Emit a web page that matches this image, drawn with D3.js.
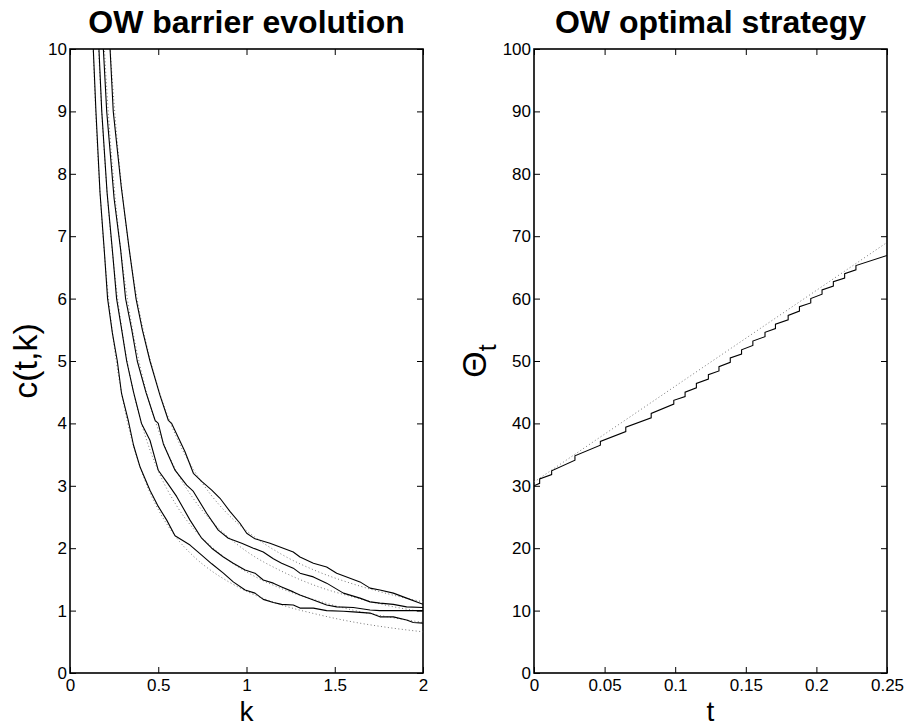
<!DOCTYPE html>
<html><head><meta charset="utf-8">
<script src="https://cdn.jsdelivr.net/npm/d3@7"></script>
<style>body{margin:0;background:#fff} svg{display:block} text{font-family:"Liberation Sans",Arial,Helvetica,sans-serif}</style>
</head><body><svg id="c" width="907" height="726"></svg>
<script>
// ---------- data: left panel (barrier evolution) ----------
const kTicks = [0, 0.5, 1, 1.5, 2];
const cTicks = [0,1,2,3,4,5,6,7,8,9,10];

const solidK1 = [0.12,0.132,0.147,0.17,0.194,0.213,0.24,0.268,0.292,0.330,0.36,0.397,0.453,0.5,0.548,0.595,0.68,0.746,0.803,0.869,0.925,0.992,1.048,1.095,1.152,1.199,1.265,1.303,1.379,1.454,1.549,1.605,1.70,1.756,1.832,1.907,1.945,2.0];
const solidC1 = [10.9,10.0,9.0,7.7,6.78,6.0,5.45,5.0,4.48,4.05,3.65,3.30,2.93,2.67,2.45,2.20,2.05,1.89,1.75,1.60,1.46,1.33,1.28,1.18,1.13,1.10,1.09,1.04,1.04,1.00,0.99,0.98,0.96,0.90,0.90,0.85,0.81,0.80];

const solidK2 = [0.15,0.164,0.180,0.21,0.240,0.264,0.29,0.321,0.36,0.397,0.405,0.453,0.5,0.55,0.604,0.68,0.746,0.803,0.869,0.925,0.992,1.048,1.095,1.152,1.199,1.265,1.303,1.379,1.454,1.511,1.605,1.700,1.756,1.85,2.0];
const solidC2 = [10.8,10.0,9.0,7.7,6.78,6.0,5.55,5.0,4.5,4.09,4.0,3.73,3.25,3.05,2.83,2.45,2.16,2.0,1.86,1.76,1.65,1.60,1.49,1.44,1.38,1.30,1.25,1.17,1.09,1.06,1.05,1.01,1.0,1.0,1.0];

const solidK3 = [0.175,0.189,0.208,0.25,0.287,0.315,0.35,0.381,0.43,0.482,0.5,0.529,0.595,0.661,0.699,0.774,0.840,0.897,0.973,1.039,1.095,1.152,1.199,1.265,1.303,1.379,1.454,1.549,1.643,1.700,1.756,1.832,1.907,2.0];
const solidC3 = [10.8,10.0,9.0,7.6,6.78,6.0,5.5,5.0,4.5,4.05,4.0,3.67,3.25,3.01,2.91,2.56,2.29,2.16,2.08,2.0,1.94,1.83,1.76,1.68,1.60,1.54,1.44,1.28,1.20,1.14,1.12,1.10,1.06,1.05];

const solidK4 = [0.215,0.227,0.245,0.29,0.336,0.374,0.41,0.453,0.51,0.557,0.576,0.651,0.699,0.746,0.803,0.850,0.906,0.963,1.001,1.048,1.133,1.265,1.303,1.379,1.454,1.511,1.643,1.700,1.756,1.832,1.907,2.0];
const solidC4 = [10.6,10.0,9.0,7.8,6.78,6.0,5.5,5.0,4.45,4.05,4.0,3.55,3.20,3.07,2.93,2.80,2.59,2.40,2.24,2.15,2.08,1.94,1.86,1.76,1.70,1.60,1.46,1.36,1.33,1.28,1.20,1.10];

const dottedK  = [0.12,0.14,0.16,0.18,0.2,0.22,0.25,0.3,0.35,0.4,0.45,0.5,0.6,0.7,0.8,0.9,1.0,1.2,1.4,1.6,1.8,2.0];
const dottedC1 = [10.92,9.36,8.19,7.28,6.55,5.95,5.24,4.37,3.74,3.28,2.91,2.62,2.18,1.87,1.64,1.46,1.31,1.09,0.94,0.82,0.73,0.66];
const dottedC2 = [13.5,11.57,10.13,9.0,8.1,7.36,6.48,5.4,4.63,4.05,3.6,3.24,2.7,2.31,2.03,1.8,1.62,1.35,1.16,1.01,0.9,0.81];
const dottedC3 = [16.25,13.93,12.19,10.83,9.75,8.86,7.8,6.5,5.57,4.88,4.33,3.9,3.25,2.79,2.44,2.17,1.95,1.63,1.39,1.22,1.08,0.98];
const dottedC4 = [19.0,16.29,14.25,12.67,11.4,10.36,9.12,7.6,6.51,5.7,5.07,4.56,3.8,3.26,2.85,2.53,2.28,1.9,1.63,1.43,1.27,1.14];

// ---------- data: right panel (optimal strategy) ----------
const tTicks = [0, 0.05, 0.1, 0.15, 0.2, 0.25];
const tTickLabels = ["0","0.05","0.1","0.15","0.2","0.25"];
const thetaTicks = [0,10,20,30,40,50,60,70,80,90,100];
const stratStart = [0, 30.0];
const stratEnd = [0.25, 66.9];
const stepT      = [0.004,0.0125,0.029,0.047,0.065,0.083,0.099,0.107,0.115,0.1235,0.131,0.139,0.147,0.155,0.1636,0.171,0.180,0.188,0.196,0.204,0.212,0.220,0.228];
const stepBefore = [30.4,31.8,34.1,36.5,38.7,40.9,43.1,44.3,45.7,47.1,48.4,49.8,51.1,52.5,53.9,55.2,56.6,58.0,59.3,60.7,62.0,63.3,64.6];
const stepAfter  = [31.1,32.4,34.8,37.1,39.4,41.6,43.7,45.0,46.4,47.8,49.1,50.5,51.8,53.2,54.6,55.9,57.3,58.7,60.0,61.4,62.7,64.0,65.3];
const linearT = [0, 0.125, 0.25];
const linearTheta = [30.6, 49.8, 69.0];

// ---------- drawing ----------
const svg = d3.select("#c");
const yTop = 49, yBot = 673;
const L = {x0:70, x1:423}, R = {x0:534, x1:887};

function frame(g, x, y, xt, xfmt, yt, id){
  const w = x.range()[1]-x.range()[0];
  g.append("clipPath").attr("id",id).append("rect")
    .attr("x",x.range()[0]).attr("y",yTop).attr("width",w).attr("height",yBot-yTop);
  const ax = d3.axisBottom(x).tickValues(xt).tickFormat(xfmt).tickSizeInner(-6).tickSizeOuter(0).tickPadding(6);
  const axT = d3.axisTop(x).tickValues(xt).tickFormat("").tickSizeInner(-6).tickSizeOuter(0);
  const ay = d3.axisLeft(y).tickValues(yt).tickFormat(d3.format("d")).tickSizeInner(-6).tickSizeOuter(0).tickPadding(3);
  const ayR = d3.axisRight(y).tickValues(yt).tickFormat("").tickSizeInner(-6).tickSizeOuter(0);
  const st = s => s.call(a=>a.select(".domain").remove())
    .call(a=>a.selectAll("line").attr("stroke","#000").attr("stroke-width",1))
    .call(a=>a.selectAll("text").attr("font-size",17).attr("fill","#000").style("font-family","'Liberation Sans',Arial,sans-serif"));
  g.append("g").attr("transform",`translate(0,${yBot})`).call(ax).call(st);
  g.append("g").attr("transform",`translate(0,${yTop})`).call(axT).call(st);
  g.append("g").attr("transform",`translate(${x.range()[0]},0)`).call(ay).call(st);
  g.append("g").attr("transform",`translate(${x.range()[1]},0)`).call(ayR).call(st);
  g.append("rect").attr("x",x.range()[0]).attr("y",yTop).attr("width",w).attr("height",yBot-yTop)
    .attr("fill","none").attr("stroke","#000").attr("stroke-width",1.6);
}

// left
const xL = d3.scaleLinear().domain([0,2]).range([L.x0,L.x1]);
const yL = d3.scaleLinear().domain([0,10]).range([yBot,yTop]);
const gL = svg.append("g");
frame(gL, xL, yL, kTicks, d3.format("~g"), cTicks, "clipL");
const plotL = gL.append("g").attr("clip-path","url(#clipL)");
const lineLin = d3.line().x(d=>xL(d[0])).y(d=>yL(d[1]));
const lineSm = d3.line().x(d=>xL(d[0])).y(d=>yL(d[1])).curve(d3.curveMonotoneX);
[dottedC1,dottedC2,dottedC3,dottedC4].forEach(cs=>{
  plotL.append("path").attr("d", lineSm(dottedK.map((k,i)=>[k,cs[i]])))
    .attr("fill","none").attr("stroke","#777").attr("stroke-width",1).attr("stroke-dasharray","1,2.5");
});
[[solidK1,solidC1],[solidK2,solidC2],[solidK3,solidC3],[solidK4,solidC4]].forEach(([ks,cs])=>{
  plotL.append("path").attr("d", lineLin(ks.map((k,i)=>[k,cs[i]])))
    .attr("fill","none").attr("stroke","#000").attr("stroke-width",1.1).attr("stroke-linejoin","round");
});

// right
const xR = d3.scaleLinear().domain([0,0.25]).range([R.x0,R.x1]);
const yR = d3.scaleLinear().domain([0,100]).range([yBot,yTop]);
const gR = svg.append("g");
frame(gR, xR, yR, tTicks, (d,i)=>tTickLabels[i], thetaTicks, "clipR");
const plotR = gR.append("g").attr("clip-path","url(#clipR)");
const lineR = d3.line().x(d=>xR(d[0])).y(d=>yR(d[1]));
plotR.append("path").attr("d", lineR(linearT.map((t,i)=>[t,linearTheta[i]])))
  .attr("fill","none").attr("stroke","#777").attr("stroke-width",1).attr("stroke-dasharray","1,2.5");
const stairs = [stratStart];
stepT.forEach((t,i)=>{ stairs.push([t,stepBefore[i]]); stairs.push([t,stepAfter[i]]); });
stairs.push(stratEnd);
plotR.append("path").attr("d", lineR(stairs))
  .attr("fill","none").attr("stroke","#000").attr("stroke-width",1.1);

// titles and labels
svg.append("text").attr("x",(L.x0+L.x1)/2).attr("y",33).attr("text-anchor","middle")
  .attr("font-size",32).attr("font-weight","bold").text("OW barrier evolution");
svg.append("text").attr("x",(R.x0+R.x1)/2).attr("y",33).attr("text-anchor","middle")
  .attr("font-size",32).attr("font-weight","bold").text("OW optimal strategy");
svg.append("text").attr("x",(L.x0+L.x1)/2).attr("y",721).attr("text-anchor","middle")
  .attr("font-size",28).text("k");
svg.append("text").attr("x",(R.x0+R.x1)/2).attr("y",721).attr("text-anchor","middle")
  .attr("font-size",28).text("t");
svg.append("text").attr("transform",`translate(37,${(yTop+yBot)/2}) rotate(-90)`).attr("text-anchor","middle")
  .attr("font-size",34).text("c(t,k)");
const th = svg.append("text").attr("transform",`translate(486,${(yTop+yBot)/2}) rotate(-90)`).attr("text-anchor","middle")
  .attr("font-size",34);
th.append("tspan").text("Θ");
th.append("tspan").attr("font-size",25).attr("dy",10).text("t");
</script></body></html>
